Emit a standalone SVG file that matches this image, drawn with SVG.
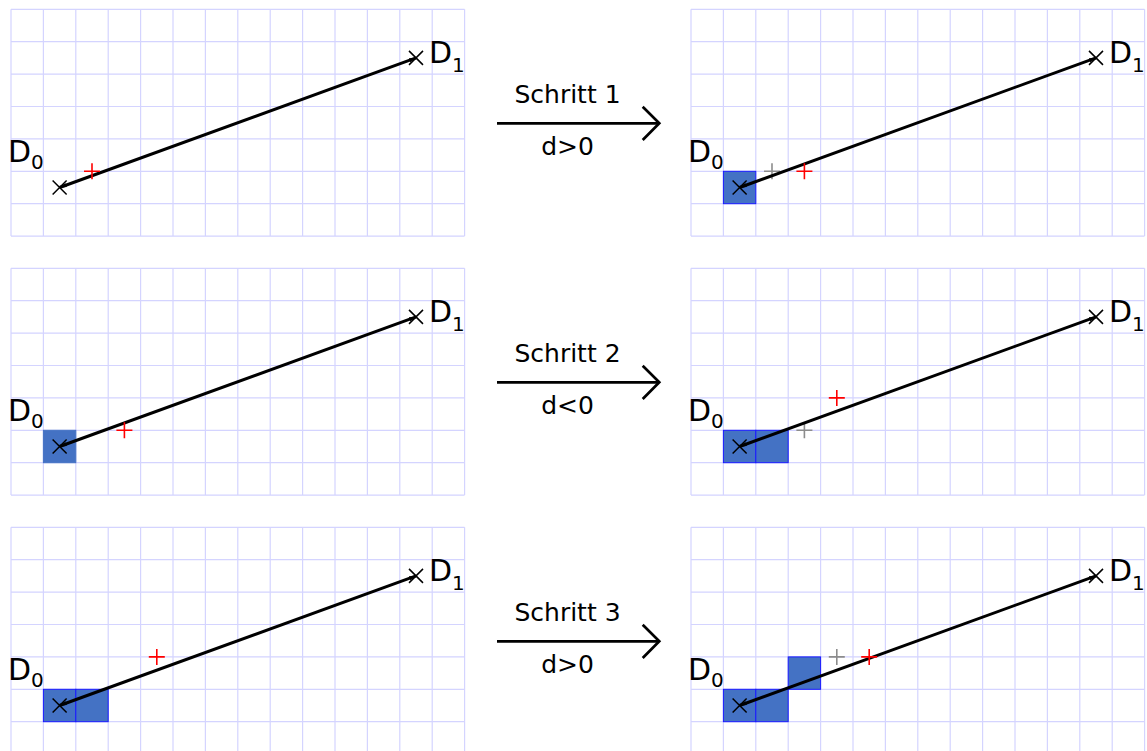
<svg xmlns="http://www.w3.org/2000/svg" xmlns:xlink="http://www.w3.org/1999/xlink" width="1147" height="751" viewBox="0 0 1147 751">
<style>
.grid{fill:none;stroke:#d4d4ff;stroke-width:1.2}
.px{fill:#4472c4;stroke:#1a1aff;stroke-width:1}
.pxn{fill:#4472c4;stroke:#4472c4;stroke-width:1}
.seg{stroke:#000;stroke-width:3;fill:none}
.xm{stroke:#000;stroke-width:1.5;fill:none}
.pr{stroke:#ff0000;stroke-width:1.6;fill:none}
.pg{stroke:#8c8c8c;stroke-width:1.6;fill:none}
.lbl{font-family:"DejaVu Sans",sans-serif;font-size:30px;fill:#000}
.sub{font-size:20px}
.atxt{font-family:"DejaVu Sans",sans-serif;font-size:25px;fill:#000;text-anchor:middle}
.arr{stroke:#000;stroke-width:2.7;fill:none}
</style>
<defs>
<marker id="tip" markerUnits="userSpaceOnUse" viewBox="0 0 7 5" refX="7" refY="2.5" markerWidth="7" markerHeight="5" orient="auto-start-reverse">
<path d="M0,0.4 L7,2.5 L0,4.6 Z" fill="#000"/>
</marker>
<path id="grid" class="grid" d="M0,0H453.6M0,32.4H453.6M0,64.8H453.6M0,97.2H453.6M0,129.6H453.6M0,162H453.6M0,194.4H453.6M0,226.8H453.6M0,0V226.8M32.4,0V226.8M64.8,0V226.8M97.2,0V226.8M129.6,0V226.8M162,0V226.8M194.4,0V226.8M226.8,0V226.8M259.2,0V226.8M291.6,0V226.8M324,0V226.8M356.4,0V226.8M388.8,0V226.8M421.2,0V226.8M453.6,0V226.8"/>
<g id="base">
<line class="seg" x1="405" y1="48.6" x2="48.6" y2="178.2" marker-start="url(#tip)" marker-end="url(#tip)"/>
<path class="xm" d="M41.6,171.2L55.6,185.2M41.6,185.2L55.6,171.2"/>
<path class="xm" d="M398,41.6L412,55.6M398,55.6L412,41.6"/>
<text class="lbl" x="-3" y="152.4">D<tspan class="sub" dy="7.3">0</tspan></text>
<text class="lbl" x="418" y="54">D<tspan class="sub" dy="8.4">1</tspan></text>
</g>
</defs>

<g id="panel1-left" transform="translate(11,9.3)">
<use xlink:href="#grid"/>
<use xlink:href="#base"/>
<path class="pr" d="M73,162H89M81,154V170"/>
</g>

<g id="panel1-right" transform="translate(691,9.3)">
<use xlink:href="#grid"/>
<rect class="px" x="32.4" y="162" width="32.4" height="32.4"/>
<path class="pg" d="M73,162H89M81,154V170"/>
<use xlink:href="#base"/>
<path class="pr" d="M105.4,162H121.4M113.4,154V170"/>
</g>

<g id="panel2-left" transform="translate(11,268.3)">
<use xlink:href="#grid"/>
<rect class="pxn" x="32.4" y="162" width="32.4" height="32.4"/>
<use xlink:href="#base"/>
<path class="pr" d="M105.4,162H121.4M113.4,154V170"/>
</g>

<g id="panel2-right" transform="translate(691,268.3)">
<use xlink:href="#grid"/>
<rect class="px" x="32.4" y="162" width="32.4" height="32.4"/>
<rect class="px" x="64.8" y="162" width="32.4" height="32.4"/>
<path class="pg" d="M105.4,162H121.4M113.4,154V170"/>
<use xlink:href="#base"/>
<path class="pr" d="M137.8,129.6H153.8M145.8,121.6V137.6"/>
</g>

<g id="panel3-left" transform="translate(11,527.3)">
<use xlink:href="#grid"/>
<rect class="px" x="32.4" y="162" width="32.4" height="32.4"/>
<rect class="px" x="64.8" y="162" width="32.4" height="32.4"/>
<use xlink:href="#base"/>
<path class="pr" d="M137.8,129.6H153.8M145.8,121.6V137.6"/>
</g>

<g id="panel3-right" transform="translate(691,527.3)">
<use xlink:href="#grid"/>
<rect class="px" x="32.4" y="162" width="32.4" height="32.4"/>
<rect class="px" x="64.8" y="162" width="32.4" height="32.4"/>
<rect class="px" x="97.2" y="129.6" width="32.4" height="32.4"/>
<path class="pg" d="M137.8,129.6H153.8M145.8,121.6V137.6"/>
<use xlink:href="#base"/>
<path class="pr" d="M170.2,129.6H186.2M178.2,121.6V137.6"/>
</g>

<g id="connectors">
<g id="step1">
<line class="arr" x1="497" y1="123.3" x2="659" y2="123.3"/>
<polyline class="arr" points="642.7,106.7 659.3,123.3 642.7,140"/>
<text class="atxt" x="567.5" y="103.3">Schritt 1</text>
<text class="atxt" x="567.5" y="155">d&gt;0</text>
</g>
<g id="step2">
<line class="arr" x1="497" y1="382.3" x2="659" y2="382.3"/>
<polyline class="arr" points="642.7,365.7 659.3,382.3 642.7,399"/>
<text class="atxt" x="567.5" y="362.3">Schritt 2</text>
<text class="atxt" x="567.5" y="414">d&lt;0</text>
</g>
<g id="step3">
<line class="arr" x1="497" y1="641.3" x2="659" y2="641.3"/>
<polyline class="arr" points="642.7,624.7 659.3,641.3 642.7,658"/>
<text class="atxt" x="567.5" y="621.3">Schritt 3</text>
<text class="atxt" x="567.5" y="673">d&gt;0</text>
</g>
</g>
</svg>
